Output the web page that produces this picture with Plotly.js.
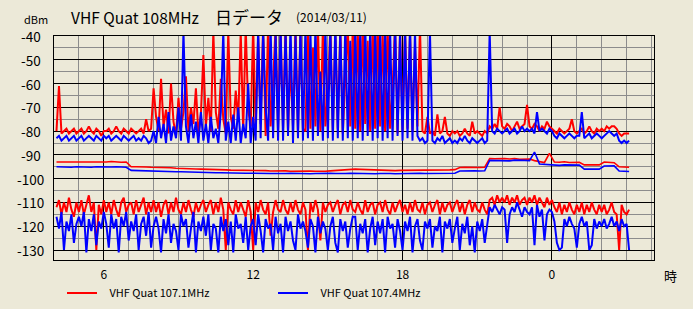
<!DOCTYPE html>
<html>
<head>
<meta charset="utf-8">
<script src="https://cdn.plot.ly/plotly-3.0.1.min.js"></script>
<style>html,body{margin:0;padding:0;background:#ECE9D8;}</style>
</head>
<body>
<div id="chart" style="width:693px;height:309px;"></div>
<script>
// ---- data (hours of day; 24 = 0:00 next day) ----
const fineStart = 4.1, fineStep = 0.1;     // sampling of the noisy bands
const coarseStart = 4.1, coarseStep = 0.2; // sampling of the middle bands

const xTickVals = [6, 12, 18, 24];
const xTickText = ['6', '12', '18', '0'];
const yTickVals = [-40, -50, -60, -70, -80, -90, -100, -110, -120, -130];

const titleParts = ['VHF Quat 108MHz', '日データ', '(2014/03/11)'];
const seriesNames = ['VHF Quat 107.1MHz', 'VHF Quat 107.4MHz'];

// 107.1MHz upper band
const red1 = [
 -80,-61,-81,-80,-79,-81,-80,-79,-81,-80,
 -79,-81,-80,-78,-80,-81,-79,-80,-82,-80,
 -80,-79,-81,-80,-78,-80,-81,-79,-80,-81,
 -79,-80,-81,-80,-79,-81,-75,-80,-79,-62,
 -74,-80,-58,-78,-71,-81,-60,-76,-82,-66,
 -79,-72,-57,-80,-70,-77,-62,-81,-73,-48,
 -78,-66,-80,-38,-72,-79,-58,-75,-81,-38,
 -74,-79,-63,-76,-38,-80,-36,-71,-78,-36,
 -79,-40,-77,-36,-82,-35,-78,-60,-36,-80,
 -38,-79,-35,-80,-52,-78,-35,-81,-37,-79,
 -80,-36,-79,-45,-78,-35,-80,-37,-78,-65,
 -35,-80,-38,-79,-36,-81,-58,-35,-78,-36,
 -79,-37,-80,-35,-77,-42,-80,-36,-79,-35,
 -78,-38,-80,-36,-79,-62,-35,-81,-37,-80,
 -36,-79,-38,-80,-44,-78,-36,-80,-81,-74,
 -81,-80,-82,-73,-81,-80,-74,-81,-82,-80,
 -81,-80,-82,-81,-79,-81,-82,-76,-81,-80,
 -81,-82,-80,-81,-78,-79,-77,-79,-70,-78,
 -79,-77,-78,-80,-78,-76,-79,-78,-77,-69,
 -78,-79,-77,-78,-80,-78,-79,-76,-78,-79,
 -80,-81,-79,-80,-81,-80,-79,-75,-80,-81,
 -80,-79,-81,-80,-78,-80,-81,-79,-80,-79,
 -80,-78,-79,-78,-78,-79,-81,-82,-81,-81,
 -81
];
// 107.4MHz upper band
const blue1 = [
 -83,-82,-84,-83,-82,-84,-83,-82,-84,-83,
 -82,-84,-83,-82,-83,-84,-82,-83,-84,-82,
 -83,-82,-84,-83,-82,-83,-84,-82,-83,-84,
 -83,-82,-84,-83,-84,-82,-83,-85,-84,-80,
 -85,-74,-83,-77,-85,-72,-84,-78,-83,-70,
 -84,-38,-78,-85,-73,-83,-76,-85,-72,-84,
 -77,-85,-74,-83,-79,-85,-72,-38,-84,-76,
 -85,-73,-84,-70,-85,-77,-83,-60,-85,-74,
 -84,-37,-83,-38,-70,-84,-36,-83,-39,-84,
 -36,-84,-38,-82,-35,-85,-40,-83,-37,-84,
 -36,-83,-38,-84,-36,-82,-55,-84,-36,-83,
 -37,-84,-35,-83,-38,-84,-36,-83,-42,-84,
 -36,-83,-38,-84,-35,-82,-37,-84,-36,-83,
 -38,-84,-36,-83,-37,-84,-35,-82,-39,-84,
 -37,-83,-36,-84,-38,-82,-84,-83,-85,-84,
 -38,-84,-85,-83,-84,-82,-85,-84,-83,-85,
 -84,-85,-83,-84,-82,-84,-85,-83,-84,-85,
 -84,-83,-85,-84,-38,-80,-81,-79,-80,-81,
 -80,-79,-81,-80,-79,-81,-80,-78,-80,-79,
 -80,-79,-81,-72,-80,-79,-80,-81,-79,-80,
 -82,-83,-81,-82,-83,-82,-81,-82,-83,-82,
 -82,-72,-83,-82,-81,-83,-82,-81,-82,-83,
 -82,-81,-80,-81,-82,-81,-84,-85,-84,-85,
 -84
];
// 107.1MHz middle band (coarse sampling)
const red2 = [
 -93,-93,-93.2,-93,-92.9,
 -93,-93.1,-93,-92.9,-93,
 -93,-92.8,-93,-93.1,-93,
 -95,-95,-94.9,-95.1,-95.2,
 -95.2,-95.4,-95.5,-95.4,-95.6,
 -95.6,-95.8,-95.7,-95.9,-96,
 -96,-96.1,-96.2,-96.2,-96.3,
 -96.4,-96.4,-96.5,-96.5,-96.6,
 -96.6,-96.7,-96.6,-96.8,-96.7,
 -96.8,-96.7,-96.9,-96.8,-96.9,
 -96.9,-96.8,-96.9,-97,-96.9,
 -96.7,-96.5,-96.3,-96.2,-96.1,
 -96,-96.1,-96.2,-96.4,-96.5,
 -96.6,-96.5,-96.7,-96.6,-96.5,
 -96.5,-96.4,-96.6,-96.5,-96.4,
 -96.4,-96.5,-96.3,-96.4,-96.3,
 -96.2,-95.3,-95.2,-95.3,-95.2,
 -95.3,-95.2,-91.5,-91.6,-91.4,
 -91.5,-91.7,-91.5,-91.8,-91.6,
 -91.7,-92.4,-92.8,-93.2,-89.4,
 -93,-93.1,-92.9,-93.2,-93,
 -93.1,-94.2,-94.3,-94.4,-94.2,
 -93,-93.1,-93.3,-95,-95.1,
 -95.2
];
// 107.4MHz middle band (coarse sampling)
const blue2 = [
 -95,-95.1,-95,-95.2,-95,
 -95.1,-95,-95.2,-95,-95.1,
 -95,-95.1,-95,-95.1,-95.2,
 -96.5,-96.6,-96.5,-96.7,-96.8,
 -96.8,-96.9,-97,-97,-97.1,
 -97.1,-97.2,-97.2,-97.3,-97.3,
 -97.4,-97.4,-97.5,-97.5,-97.6,
 -97.6,-97.6,-97.7,-97.7,-97.7,
 -97.8,-97.7,-97.9,-97.8,-97.8,
 -97.9,-97.8,-97.7,-97.8,-97.9,
 -97.8,-97.9,-97.8,-97.7,-97.8,
 -97.7,-97.8,-97.9,-97.8,-97.7,
 -97.8,-97.9,-97.8,-97.8,-97.9,
 -97.8,-97.7,-97.8,-97.9,-97.8,
 -97.9,-97.8,-97.8,-97.7,-97.8,
 -97.8,-97.9,-97.8,-97.7,-97.8,
 -97.7,-96.8,-96.7,-96.8,-96.7,
 -96.8,-96.7,-92.3,-92.4,-92.2,
 -92.3,-92.5,-92.2,-92.4,-92.3,
 -92.4,-88.8,-93.8,-94,-94.1,
 -94.3,-94.4,-94.2,-94.3,-94.4,
 -94.3,-96,-96.1,-96.2,-96,
 -94.7,-94.8,-94.6,-96.8,-96.9,
 -97
];
// 107.1MHz lower band
const red3 = [
 -112,-109,-115,-110,-114,-108,-113,-116,-110,-114,
 -109,-115,-111,-107,-114,-110,-130,-111,-115,-109,
 -114,-110,-115,-109,-113,-116,-110,-108,-114,-111,
 -110,-115,-109,-114,-111,-108,-115,-110,-114,-109,
 -114,-110,-116,-111,-109,-115,-110,-114,-108,-113,
 -115,-110,-114,-109,-113,-116,-110,-114,-111,-109,
 -114,-111,-109,-115,-110,-114,-108,-113,-130,-110,
 -113,-115,-109,-114,-110,-113,-116,-109,-114,-130,
 -110,-114,-109,-113,-115,-110,-124,-114,-109,-113,
 -114,-109,-113,-115,-110,-114,-109,-113,-115,-110,
 -113,-130,-110,-114,-109,-113,-126,-110,-114,-111,
 -110,-114,-111,-109,-115,-111,-110,-114,-109,-113,
 -114,-110,-113,-115,-109,-114,-111,-110,-115,-111,
 -110,-114,-109,-113,-115,-110,-114,-111,-109,-114,
 -111,-115,-110,-114,-109,-113,-114,-110,-115,-111,
 -110,-114,-111,-109,-115,-110,-114,-111,-110,-114,
 -111,-109,-114,-110,-115,-111,-109,-114,-110,-113,
 -114,-110,-113,-115,-109,-108,-111,-107,-110,-108,
 -110,-107,-111,-108,-110,-107,-111,-109,-108,-111,
 -108,-110,-107,-111,-108,-110,-112,-108,-111,-109,
 -112,-114,-110,-115,-111,-114,-110,-113,-115,-111,
 -114,-110,-115,-111,-114,-110,-113,-115,-111,-114,
 -111,-115,-113,-110,-114,-115,-130,-111,-114,-115,
 -113
];
// 107.4MHz lower band
const blue3 = [
 -116,-121,-114,-130,-118,-122,-115,-127,-119,-116,
 -120,-114,-131,-117,-122,-115,-128,-118,-121,-114,
 -119,-129,-115,-121,-117,-131,-116,-120,-114,-126,
 -118,-122,-115,-130,-119,-116,-124,-114,-129,-120,
 -116,-121,-131,-117,-123,-115,-127,-119,-122,-130,
 -115,-120,-117,-129,-121,-114,-131,-118,-122,-116,
 -124,-115,-130,-119,-121,-131,-116,-122,-117,-128,
 -118,-131,-115,-121,-119,-127,-116,-130,-120,-117,
 -128,-115,-122,-131,-117,-121,-119,-130,-116,-123,
 -119,-131,-116,-122,-118,-126,-130,-115,-121,-118,
 -122,-129,-117,-120,-131,-116,-123,-118,-121,-130,
 -120,-116,-127,-131,-117,-122,-118,-129,-121,-116,
 -116,-130,-119,-123,-117,-131,-121,-116,-128,-118,
 -123,-117,-131,-116,-121,-119,-129,-117,-122,-130,
 -118,-122,-116,-131,-120,-117,-126,-130,-118,-121,
 -117,-129,-120,-122,-116,-131,-118,-121,-117,-127,
 -121,-116,-130,-119,-123,-116,-128,-120,-131,-118,
 -122,-117,-127,-120,-112,-114,-111,-113,-115,-112,
 -113,-127,-115,-112,-114,-110,-113,-116,-112,-114,
 -115,-112,-128,-111,-116,-113,-126,-115,-113,-114,
 -118,-127,-130,-129,-117,-120,-116,-119,-121,-129,
 -119,-116,-120,-118,-130,-128,-117,-121,-118,-120,
 -117,-121,-119,-116,-120,-118,-122,-117,-120,-119,
 -130
];

// ---- build ----
function hours(values, start, step) {
  return values.map((_, i) => Math.round((start + i * step) * 1000) / 1000);
}
const RED = '#FF0000', BLUE = '#0000FF';
const NB = '\u00a0\u00a0\u00a0';
function tr(values, start, step, color, name, show, w) {
  return {
    type: 'scatter', mode: 'lines',
    x: hours(values, start, step), y: values,
    line: {color: color, width: w},
    name: NB + name, legendgroup: color, showlegend: show,
    hoverinfo: 'skip'
  };
}
const traces = [
  tr(red1, fineStart, fineStep, RED, seriesNames[0], true, 2),
  tr(red2, coarseStart, coarseStep, RED, seriesNames[0], false, 1.6),
  tr(red3, fineStart, fineStep, RED, seriesNames[0], false, 2),
  tr(blue1, fineStart, fineStep, BLUE, seriesNames[1], true, 2),
  tr(blue2, coarseStart, coarseStep, BLUE, seriesNames[1], false, 1.6),
  tr(blue3, fineStart, fineStep, BLUE, seriesNames[1], false, 2)
];

const W = 693, H = 309;
const M = {l: 54, r: 39, t: 36, b: 49};
const PW = W - M.l - M.r, PH = H - M.t - M.b;
const px = v => (v - M.l) / PW;
const py = v => (H - M.b - v) / PH;
const FONT = '"Noto Sans CJK JP", "Noto Sans", sans-serif';
const txt = (text, x, y, size, xanchor) => ({
  text: text, xref: 'paper', yref: 'paper', x: px(x), y: py(y),
  xanchor: xanchor || 'center', yanchor: 'middle', showarrow: false,
  font: {family: FONT, size: size, color: '#000'}
});

const annotations = [
  txt(titleParts[0], 69, 17, 15.5, 'left'),
  txt(titleParts[1], 213, 17, 17, 'left'),
  txt(titleParts[2], 294, 17, 12, 'left'),
  txt('dBm', 36, 19, 11),
  txt('時', 670, 275, 13)
];
yTickVals.forEach(v => annotations.push({
  text: String(v), xref: 'paper', yref: 'y', x: px(30.5), y: v,
  xanchor: 'center', yanchor: 'middle', showarrow: false,
  font: {family: FONT, size: 13.5, color: '#000'}
}));

const layout = {
  width: W, height: H,
  margin: M,
  paper_bgcolor: '#ECE9D8', plot_bgcolor: '#ECE9D8',
  font: {family: FONT, size: 12, color: '#000'},
  xaxis: {
    range: [4, 28.1],
    tickmode: 'array', tickvals: xTickVals, ticktext: xTickText,
    showgrid: true, gridcolor: '#000', gridwidth: 1,
    minor: {tickmode: 'linear', tick0: 0, dtick: 1, showgrid: true, gridcolor: '#8C8C8C', gridwidth: 1},
    showline: true, linecolor: '#000', linewidth: 1, mirror: true,
    ticks: '', zeroline: false, fixedrange: true,
    ticklabelstandoff: 4,
    tickfont: {family: FONT, size: 12, color: '#000'}
  },
  yaxis: {
    range: [-134.2, -40],
    tickmode: 'linear', tick0: -130, dtick: 10,
    showgrid: true, gridcolor: '#000', gridwidth: 1,
    minor: {tickmode: 'linear', tick0: -135, dtick: 5, showgrid: true, gridcolor: '#8C8C8C', gridwidth: 1},
    showline: true, linecolor: '#000', linewidth: 1, mirror: true,
    ticks: '', zeroline: false, fixedrange: true,
    showticklabels: false
  },
  showlegend: true,
  legend: {
    orientation: 'h',
    xref: 'container', yref: 'container',
    x: 62 / W, xanchor: 'left',
    y: 1 - 293 / H, yanchor: 'middle',
    bgcolor: 'rgba(0,0,0,0)',
    font: {family: FONT, size: 11, color: '#000'},
    entrywidth: 166, entrywidthmode: 'pixels',
    traceorder: 'normal'
  },
  annotations: annotations
};

Plotly.newPlot('chart', traces, layout, {staticPlot: true, displayModeBar: false});
</script>
</body>
</html>
